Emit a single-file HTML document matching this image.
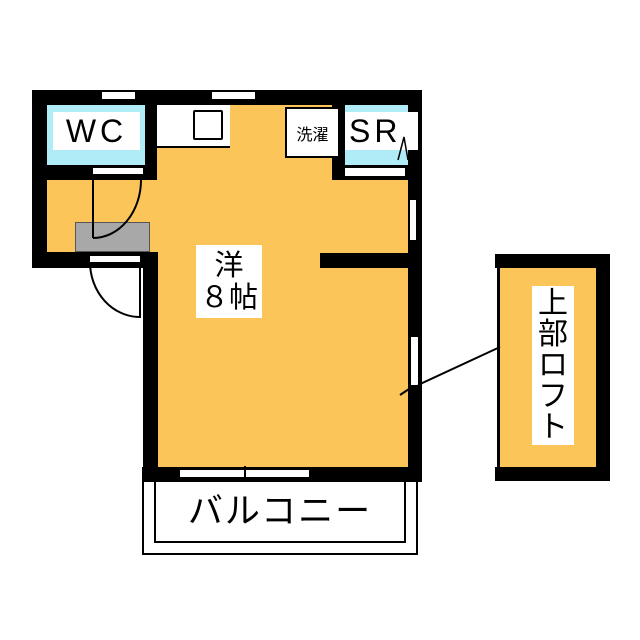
<!DOCTYPE html>
<html><head><meta charset="utf-8"><style>
body{margin:0;width:640px;height:640px;background:#fff;overflow:hidden;position:relative;font-family:"Liberation Sans","Noto Sans CJK JP",sans-serif}
div{position:absolute;box-sizing:border-box}
.b{background:#000}.w{background:#fff}.y{background:#fcc55a}.c{background:#b0ecf8}
.t{display:flex;align-items:center;justify-content:center;color:#000}
</style></head><body>
<div class="y" style="left:145px;top:100px;width:270px;height:372px"></div>
<div class="y" style="left:40px;top:175px;width:115px;height:80px"></div>
<div class="c" style="left:45px;top:105px;width:102px;height:62px"></div>
<div class="c" style="left:345px;top:105px;width:65px;height:62px"></div>
<!-- walls -->
<div class="b" style="left:32px;top:90px;width:388px;height:15px"></div>
<div class="b" style="left:32px;top:90px;width:15px;height:178px"></div>
<div class="b" style="left:145px;top:90px;width:12px;height:90px"></div>
<div class="b" style="left:32px;top:165px;width:125px;height:15px"></div>
<div class="b" style="left:332px;top:105px;width:13px;height:75px"></div>
<div class="b" style="left:332px;top:165px;width:88px;height:15px"></div>
<div class="b" style="left:408px;top:90px;width:14px;height:392px"></div>
<div class="b" style="left:32px;top:252px;width:126px;height:16px"></div>
<div class="b" style="left:143px;top:252px;width:15px;height:230px"></div>
<div class="b" style="left:320px;top:253px;width:90px;height:15px"></div>
<div class="b" style="left:142px;top:467px;width:280px;height:15px"></div>
<!-- windows -->
<div class="w" style="left:102px;top:92px;width:33px;height:7px"></div>
<div class="w" style="left:212px;top:92px;width:43px;height:7px"></div>
<div class="w" style="left:93px;top:168px;width:50px;height:6px"></div>
<div class="w" style="left:345px;top:168px;width:60px;height:8px"></div>
<div class="w" style="left:410px;top:200px;width:6px;height:40px"></div>
<div class="w" style="left:411px;top:337px;width:7px;height:48px"></div>
<div class="w" style="left:90px;top:256px;width:50px;height:6px"></div>
<div class="w" style="left:179px;top:469px;width:131px;height:9px;border:1.5px solid #000"></div>
<!-- fixtures -->
<div class="w" style="left:157px;top:105px;width:73px;height:43px;border-bottom:2px solid #000"></div>
<div style="left:193px;top:110px;width:30px;height:30px;border:2px solid #000;border-radius:2px"></div>
<div class="w t" style="left:285px;top:107px;width:55px;height:51px;border:2px solid #000;font-size:16px">洗濯</div>
<div class="w t" style="left:53px;top:112px;width:87px;height:38px;font-size:32px;letter-spacing:4px">WC</div>
<div class="w t" style="left:345px;top:112px;width:73px;height:38px;font-size:32px;letter-spacing:4px;justify-content:flex-start;padding-left:4px">SR</div>
<div style="left:75px;top:222px;width:75px;height:30px;background:#a8a8a8;border:1px solid #555"></div>
<div class="w t" style="left:196px;top:245px;width:66px;height:73px;font-size:29px;line-height:32px;flex-direction:column">洋<span>８帖</span></div>
<!-- balcony -->
<div style="left:142px;top:482px;width:276px;height:73px;border:2px solid #000;border-top:none"></div>
<div style="left:154px;top:482px;width:252px;height:61px;border:2px solid #000;border-top:none"></div>
<div class="t" style="left:154px;top:486px;width:252px;height:45px;font-size:35px;letter-spacing:2px">バルコニー</div>
<!-- loft -->
<div class="y" style="left:500px;top:268px;width:96px;height:199px"></div>
<div class="b" style="left:495px;top:254px;width:115px;height:14px"></div>
<div class="b" style="left:495px;top:467px;width:115px;height:14px"></div>
<div class="b" style="left:596px;top:254px;width:14px;height:227px"></div>
<div class="b" style="left:497px;top:268px;width:3px;height:199px"></div>
<div class="w t" style="left:532px;top:286px;width:42px;height:159px;font-size:30px;line-height:31px;flex-direction:column"><span>上</span><span>部</span><span>ロ</span><span>フ</span><span>ト</span></div>
<svg style="position:absolute;left:0;top:0" width="640" height="640">
<path d="M93 180 V238 M93 238 A48 58 0 0 0 141 180" fill="none" stroke="#000" stroke-width="2"/>
<path d="M90 262 A50 55 0 0 0 140 317 V262" fill="none" stroke="#000" stroke-width="2"/>
<path d="M400 395 L409 389 M418 385 L500 347" stroke="#000" stroke-width="2"/>
<path d="M398 160 L404 137 L408 160" fill="none" stroke="#000" stroke-width="1.5"/>
<line x1="245" y1="466" x2="245" y2="481" stroke="#000" stroke-width="2"/>
</svg>
</body></html>
